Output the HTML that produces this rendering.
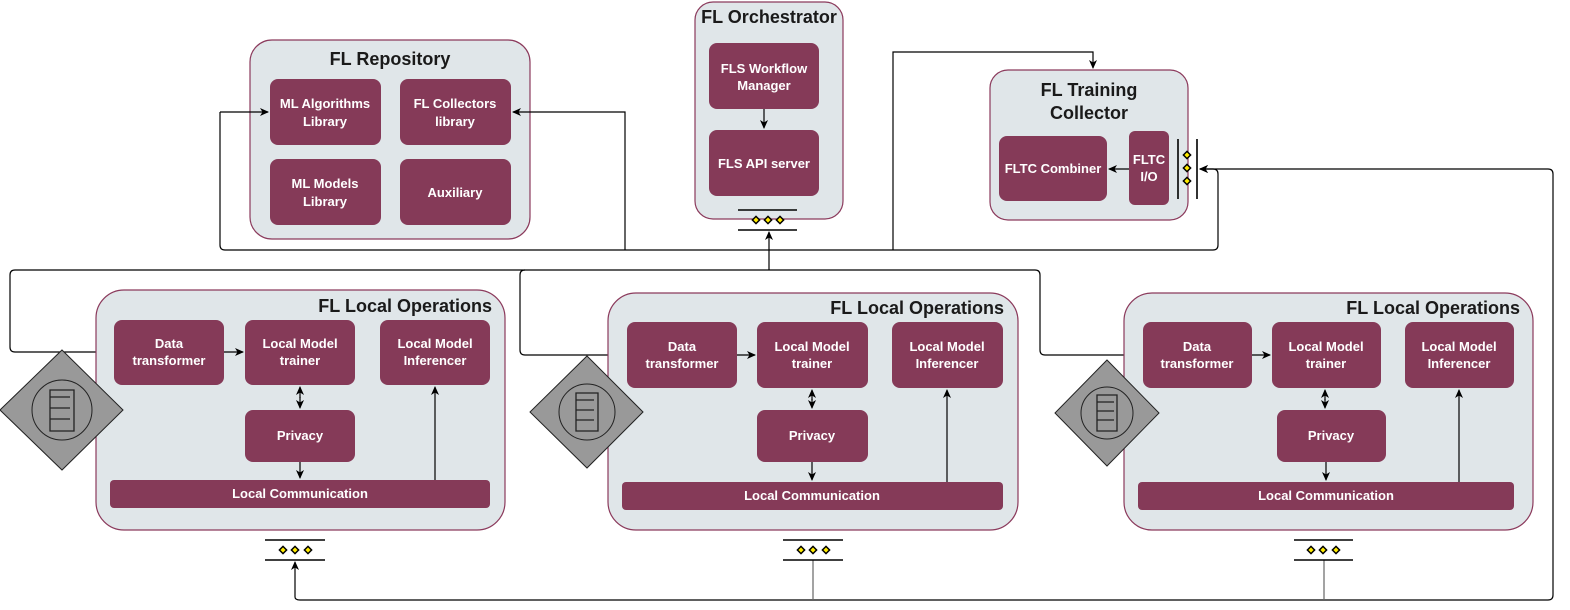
<!DOCTYPE html>
<html><head><meta charset="utf-8"><style>
html,body{margin:0;padding:0;background:#fff;width:1570px;height:610px;overflow:hidden}
svg{display:block;font-family:"Liberation Sans",Arial,sans-serif}
.c{fill:#e0e6e9;stroke:#8b3a5c;stroke-width:1.2}
.b{fill:#853a58}
.t{fill:#fff;font-weight:bold;font-size:13px;text-anchor:middle}
.h{fill:#1a1a1a;font-weight:bold;font-size:18px}
.l{fill:none;stroke:#000;stroke-width:1.2}
.g{fill:none;stroke:#666;stroke-width:1.2}
.d{fill:#ffeb00;stroke:#000;stroke-width:1.5}
</style></head><body>
<svg width="1570" height="610" viewBox="0 0 1570 610">
<defs>
<marker id="a" markerWidth="10" markerHeight="10" refX="8" refY="5" orient="auto" markerUnits="userSpaceOnUse"><path d="M0,1 L9,5 L0,9 L2.5,5 Z" fill="#000"/></marker>
<symbol id="dm" viewBox="-5 -5 10 10" width="10" height="10"><path d="M0,-3.6 L3.6,0 L0,3.6 L-3.6,0Z" class="d"/></symbol>
</defs>

<!-- FL Repository -->
<rect class="c" x="250" y="40" width="280" height="199" rx="22"/>
<text class="h" x="390" y="65" text-anchor="middle">FL Repository</text>
<rect class="b" x="270" y="79" width="111" height="66" rx="8"/>
<text class="t" x="325" y="108">ML Algorithms</text><text class="t" x="325" y="126">Library</text>
<rect class="b" x="400" y="79" width="111" height="66" rx="8"/>
<text class="t" x="455" y="108">FL Collectors</text><text class="t" x="455" y="126">library</text>
<rect class="b" x="270" y="159" width="111" height="66" rx="8"/>
<text class="t" x="325" y="188">ML Models</text><text class="t" x="325" y="206">Library</text>
<rect class="b" x="400" y="159" width="111" height="66" rx="8"/>
<text class="t" x="455" y="197">Auxiliary</text>

<!-- Orchestrator -->
<rect class="c" x="695" y="2" width="148" height="217" rx="18"/>
<text class="h" x="769" y="23" text-anchor="middle">FL Orchestrator</text>
<rect class="b" x="709" y="43" width="110" height="66" rx="8"/>
<text class="t" x="764" y="73">FLS Workflow</text><text class="t" x="764" y="90">Manager</text>
<rect class="b" x="709" y="130" width="110" height="66" rx="8"/>
<text class="t" x="764" y="168">FLS API server</text>
<path class="l" d="M764,109 V128" marker-end="url(#a)"/>
<path d="M738,210 H797 M738,230 H797" stroke="#000" stroke-width="1.6"/>
<use href="#dm" x="751" y="215"/><use href="#dm" x="763" y="215"/><use href="#dm" x="775" y="215"/>

<!-- Training collector -->
<rect class="c" x="990" y="70" width="198" height="150" rx="18"/>
<text class="h" x="1089" y="96" text-anchor="middle">FL Training</text>
<text class="h" x="1089" y="119" text-anchor="middle">Collector</text>
<rect class="b" x="999" y="136" width="108" height="65" rx="8"/>
<text class="t" x="1053" y="173">FLTC Combiner</text>
<rect class="b" x="1129" y="131" width="40" height="74" rx="6"/>
<text class="t" x="1149" y="164">FLTC</text><text class="t" x="1149" y="181">I/O</text>
<path class="l" d="M1129,169 H1109" marker-end="url(#a)"/>
<path d="M1178,139 V199 M1197,139 V199" stroke="#000" stroke-width="1.6"/>
<use href="#dm" x="1182" y="150"/><use href="#dm" x="1182" y="163"/><use href="#dm" x="1182" y="176"/>

<!-- connectors top -->
<path class="l" d="M625,250 V112 H513" marker-end="url(#a)"/>
<path class="l" d="M220,112 H268" marker-end="url(#a)"/>
<path class="l" d="M220,112 V245 Q220,250 225,250 H1213 Q1218,250 1218,245 V174 Q1218,169 1213,169 H1200" marker-end="url(#a)"/>
<path class="l" d="M893,250 V52 H1093 V68" marker-end="url(#a)"/>
<path class="l" d="M15,270 H1035 Q1040,270 1040,275 V350 Q1040,355 1045,355 H1141" marker-end="url(#a)"/>
<path class="l" d="M15,270 Q10,270 10,275 V347 Q10,352 15,352 H112" marker-end="url(#a)"/>
<path class="l" d="M525,270 Q520,270 520,275 V350 Q520,355 525,355 H625" marker-end="url(#a)"/>
<path class="l" d="M769,270 V232" marker-end="url(#a)"/>
<path class="l" d="M295,597 Q295,600 300,600 H1548 Q1553,600 1553,595 V174 Q1553,169 1548,169 H1200" marker-end="url(#a)"/>
<path class="l" d="M295,597 V562" marker-end="url(#a)"/>
<path class="g" d="M813,560 V600 M1324,560 V600"/>

<!-- Local ops 1 -->
<rect class="c" x="96" y="290" width="409" height="240" rx="28"/>
<text class="h" x="492" y="312" text-anchor="end">FL Local Operations</text>
<rect class="b" x="114" y="320" width="110" height="65" rx="8"/>
<text class="t" x="169" y="348">Data</text><text class="t" x="169" y="365">transformer</text>
<rect class="b" x="245" y="320" width="110" height="65" rx="8"/>
<text class="t" x="300" y="348">Local Model</text><text class="t" x="300" y="365">trainer</text>
<rect class="b" x="380" y="320" width="110" height="65" rx="8"/>
<text class="t" x="435" y="348">Local Model</text><text class="t" x="435" y="365">Inferencer</text>
<rect class="b" x="245" y="410" width="110" height="52" rx="8"/>
<text class="t" x="300" y="440">Privacy</text>
<rect class="b" x="110" y="480" width="380" height="28" rx="4"/>
<text class="t" x="300" y="498">Local Communication</text>
<path class="l" d="M224,352 H243" marker-end="url(#a)"/>
<path class="l" d="M300,397 V408" marker-end="url(#a)"/><path class="l" d="M300,398 V387" marker-end="url(#a)"/>
<path class="l" d="M300,462 V478" marker-end="url(#a)"/>
<path class="l" d="M435,480 V387" marker-end="url(#a)"/>
<path d="M62,350 L123,410 L62,470 L0,410Z" fill="#999" stroke="#222"/>
<circle cx="62" cy="410" r="30" fill="none" stroke="#222"/>
<path d="M50,390 H74 V431 H50Z M50,397 H70 M50,408 H70 M50,419 H70" fill="none" stroke="#222" stroke-width="1.3"/>
<path d="M265,540 H325 M265,560 H325" stroke="#000" stroke-width="1.6"/>
<use href="#dm" x="278" y="545"/><use href="#dm" x="290" y="545"/><use href="#dm" x="303" y="545"/>

<!-- Local ops 2 -->
<rect class="c" x="608" y="293" width="410" height="237" rx="28"/>
<text class="h" x="1004" y="314" text-anchor="end">FL Local Operations</text>
<rect class="b" x="627" y="322" width="110" height="66" rx="8"/>
<text class="t" x="682" y="351">Data</text><text class="t" x="682" y="368">transformer</text>
<rect class="b" x="757" y="322" width="111" height="66" rx="8"/>
<text class="t" x="812" y="351">Local Model</text><text class="t" x="812" y="368">trainer</text>
<rect class="b" x="892" y="322" width="111" height="66" rx="8"/>
<text class="t" x="947" y="351">Local Model</text><text class="t" x="947" y="368">Inferencer</text>
<rect class="b" x="757" y="410" width="111" height="52" rx="8"/>
<text class="t" x="812" y="440">Privacy</text>
<rect class="b" x="622" y="482" width="381" height="28" rx="4"/>
<text class="t" x="812" y="500">Local Communication</text>
<path class="l" d="M737,355 H755" marker-end="url(#a)"/>
<path class="l" d="M812,399 V408" marker-end="url(#a)"/><path class="l" d="M812,400 V390" marker-end="url(#a)"/>
<path class="l" d="M812,462 V480" marker-end="url(#a)"/>
<path class="l" d="M947,482 V390" marker-end="url(#a)"/>
<path d="M587,356 L643,412 L587,468 L530,412Z" fill="#999" stroke="#222"/>
<circle cx="587" cy="412" r="28" fill="none" stroke="#222"/>
<path d="M576,393 H598 V431 H576Z M576,400 H594 M576,410 H594 M576,420 H594" fill="none" stroke="#222" stroke-width="1.3"/>
<path d="M783,540 H843 M783,560 H843" stroke="#000" stroke-width="1.6"/>
<use href="#dm" x="796" y="545"/><use href="#dm" x="808" y="545"/><use href="#dm" x="821" y="545"/>

<!-- Local ops 3 -->
<rect class="c" x="1124" y="293" width="409" height="237" rx="28"/>
<text class="h" x="1520" y="314" text-anchor="end">FL Local Operations</text>
<rect class="b" x="1143" y="322" width="109" height="66" rx="8"/>
<text class="t" x="1197" y="351">Data</text><text class="t" x="1197" y="368">transformer</text>
<rect class="b" x="1272" y="322" width="109" height="66" rx="8"/>
<text class="t" x="1326" y="351">Local Model</text><text class="t" x="1326" y="368">trainer</text>
<rect class="b" x="1405" y="322" width="109" height="66" rx="8"/>
<text class="t" x="1459" y="351">Local Model</text><text class="t" x="1459" y="368">Inferencer</text>
<rect class="b" x="1277" y="410" width="109" height="52" rx="8"/>
<text class="t" x="1331" y="440">Privacy</text>
<rect class="b" x="1138" y="482" width="376" height="28" rx="4"/>
<text class="t" x="1326" y="500">Local Communication</text>
<path class="l" d="M1252,355 H1270" marker-end="url(#a)"/>
<path class="l" d="M1325,399 V408" marker-end="url(#a)"/><path class="l" d="M1325,400 V390" marker-end="url(#a)"/>
<path class="l" d="M1326,462 V480" marker-end="url(#a)"/>
<path class="l" d="M1459,482 V390" marker-end="url(#a)"/>
<path d="M1107,360 L1159,413 L1107,466 L1055,413Z" fill="#999" stroke="#222"/>
<circle cx="1107" cy="413" r="26" fill="none" stroke="#222"/>
<path d="M1097,395 H1117 V431 H1097Z M1097,402 H1114 M1097,411 H1114 M1097,420 H1114" fill="none" stroke="#222" stroke-width="1.3"/>
<path d="M1294,540 H1353 M1294,560 H1353" stroke="#000" stroke-width="1.6"/>
<use href="#dm" x="1306" y="545"/><use href="#dm" x="1318" y="545"/><use href="#dm" x="1331" y="545"/>
</svg>
</body></html>
